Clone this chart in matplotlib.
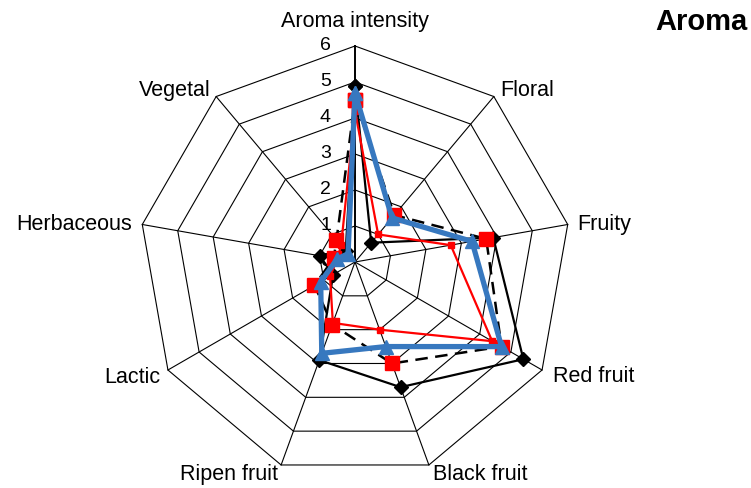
import numpy as np
import matplotlib.pyplot as plt

plt.rcParams['font.family'] = ['Liberation Sans', 'DejaVu Sans']

# aroma descriptors, clockwise from the top
categories = ['Aroma intensity', 'Floral', 'Fruity', 'Red fruit', 'Black fruit',
              'Ripen fruit', 'Lactic', 'Herbaceous', 'Vegetal']
scale_ticks = [0, 1, 2, 3, 4, 5, 6]

# values
black_solid = [4.9, 0.7, 3.9, 5.4, 3.7, 2.9, 0.7, 1.0, 0.4]
black_dashed = [4.5, 1.7, 3.7, 4.7, 3.0, 1.85, 1.3, 0.6, 0.8]
red_thin = [4.2, 1.0, 2.7, 4.4, 2.0, 1.8, 0.8, 0.5, 0.6]
blue_thick = [4.7, 1.6, 3.3, 4.7, 2.5, 2.7, 1.1, 0.5, 0.3]

n = len(categories)
theta = np.arange(n) * 2 * np.pi / n
theta_c = np.append(theta, theta[0])


def closed(vals):
    return np.append(vals, vals[0])


fig = plt.figure(figsize=(7.51, 4.88), dpi=100)
ax = fig.add_axes([139 / 751, 10 / 488, 432 / 751, 432 / 488], projection='polar')
ax.set_theta_zero_location('N')
ax.set_theta_direction(-1)
ax.set_ylim(0, scale_ticks[-1])
ax.set_axis_off()

# nonagon grid + spokes
for k in scale_ticks[1:]:
    ax.plot(theta_c, [k] * (n + 1), color='black', lw=0.8, zorder=1, clip_on=False)
for i, t in enumerate(theta):
    ax.plot([t, t], [0, scale_ticks[-1]], color='black',
            lw=1.4 if i == 0 else 0.8, zorder=1, clip_on=False)

# value labels along the top axis
for k in scale_ticks:
    ax.annotate(str(k), xy=(0, k), xytext=(-24, 0), textcoords='offset pixels',
                ha='right', va='center', fontsize=14)

# category labels
label_offsets = [(0, 24, 'center'), (6, 6, 'left'), (10, 0, 'left'),
                 (11, -7, 'left'), (4, -10, 'left'), (-3, -10, 'right'),
                 (-8, -7, 'right'), (-10, 0, 'right'), (-6, 6, 'right')]
for t, name, (dx, dy, ha) in zip(theta, categories, label_offsets):
    ax.annotate(name, xy=(t, scale_ticks[-1]), xytext=(dx, dy),
                textcoords='offset pixels', ha=ha, va='center', fontsize=15.5)

# series
ax.plot(theta_c, closed(black_solid), color='black', lw=1.6, marker='D',
        markersize=7.5, zorder=3, clip_on=False)
ax.plot(theta_c, closed(black_dashed), color='black', lw=1.8, ls=(0, (5, 3)),
        marker='s', markersize=10, markerfacecolor='red', markeredgecolor='red',
        zorder=4, clip_on=False)
ax.plot(theta_c, closed(red_thin), color='red', lw=1.6, marker='s',
        markersize=4.5, zorder=5, clip_on=False)
ax.plot(theta_c, closed(blue_thick), color='#3778BF', lw=3.8, marker='^',
        markersize=10, zorder=6, clip_on=False)

fig.text(748 / 751, 1 - 22 / 488, 'Aroma', ha='right', va='center',
         fontsize=21, fontweight='bold')

fig.savefig('out.png', dpi=100)
